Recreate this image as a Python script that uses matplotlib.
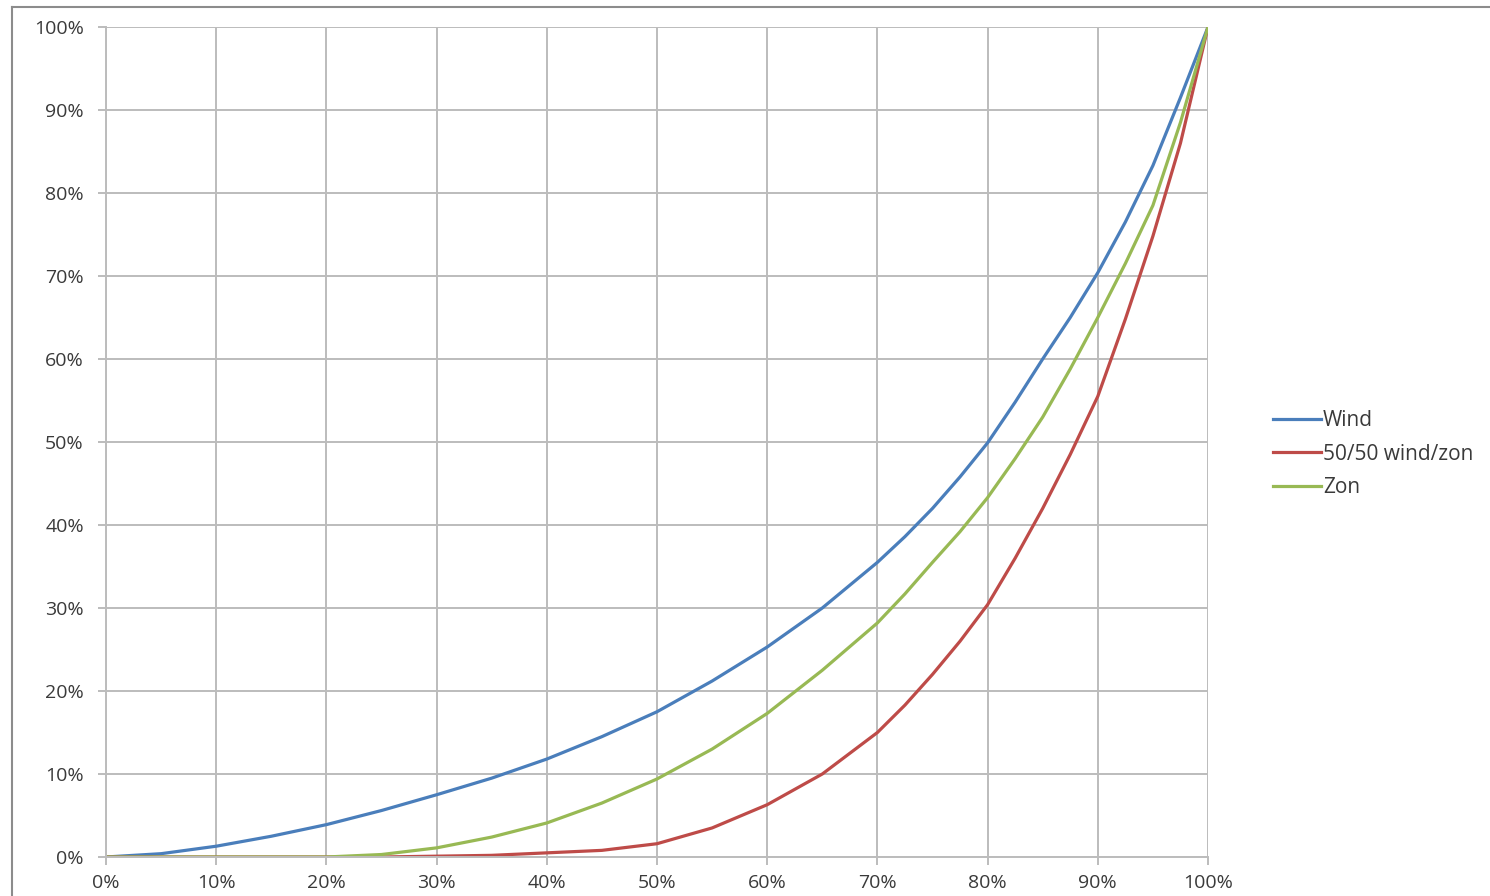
"""Cumulatieve verdeling: wind, zon en 50/50 wind/zon."""

import matplotlib.pyplot as plt
from matplotlib.lines import Line2D
from matplotlib.ticker import PercentFormatter

plt.rcParams["font.family"] = ["Open Sans", "DejaVu Sans"]

# --- Data (in %) ----------------------------------------------------------------
x = [0, 5, 10, 15, 20, 25, 30, 35, 40, 45, 50, 55, 60, 65, 70, 72.5, 75, 77.5,
     80, 82.5, 85, 87.5, 90, 92.5, 95, 97.5, 100]
wind = [0, 0.4, 1.3, 2.5, 3.9, 5.6, 7.5, 9.5, 11.8, 14.5, 17.5, 21.2, 25.3, 30.0,
        35.5, 38.6, 42.0, 45.8, 49.9, 54.8, 60.0, 65.0, 70.4, 76.5, 83.3, 91.5, 100]
wind_zon = [0, 0, 0, 0, 0, 0, 0.1, 0.2, 0.5, 0.8, 1.6, 3.5, 6.3, 10.0, 15.0, 18.3,
            22.0, 26.0, 30.4, 36.0, 42.0, 48.5, 55.5, 64.8, 74.8, 86.0, 100]
zon = [0, 0, 0, 0, 0, 0.3, 1.1, 2.4, 4.1, 6.5, 9.4, 13.0, 17.3, 22.5, 28.2, 31.7,
       35.5, 39.2, 43.3, 48.0, 53.0, 58.8, 65.0, 71.5, 78.5, 88.5, 100]

series = [("Wind", wind, "#4a7ebb"),
          ("50/50 wind/zon", wind_zon, "#be4b48"),
          ("Zon", zon, "#98b954")]

# --- Figuur ---------------------------------------------------------------------
fig = plt.figure(figsize=(14.9, 8.96), dpi=100)
ax = fig.add_axes([106 / 1490, 1 - 857 / 896, (1208 - 106) / 1490, (857 - 27) / 896])

for label, values, color in series:
    ax.plot(x, values, color=color, linewidth=2.3, label=label)

ax.set_xlim(0, 100)
ax.set_ylim(0, 100)
ax.set_xticks(range(0, 101, 10))
ax.set_yticks(range(0, 101, 10))
ax.xaxis.set_major_formatter(PercentFormatter(decimals=0))
ax.yaxis.set_major_formatter(PercentFormatter(decimals=0))
ax.grid(True, color="#bcbcbc", linewidth=1.4)
ax.set_axisbelow(True)
for side in ["top", "right"]:
    ax.spines[side].set_visible(False)
for side in ["left", "bottom"]:
    ax.spines[side].set_color("#bcbcbc")
    ax.spines[side].set_linewidth(1.4)
ax.tick_params(axis="both", colors="#bcbcbc", length=6, width=1.4,
               labelcolor="#3a3a3a", labelsize=14)
ax.tick_params(axis="y", pad=10)
ax.tick_params(axis="x", pad=6)

fig.legend(loc="center left", bbox_to_anchor=(1254 / 1490, 1 - 454 / 896),
           frameon=False, fontsize=15, handlelength=2.3, handletextpad=0.12,
           labelspacing=0.6, labelcolor="#3a3a3a")

# Kader van de grafiek (links en boven)
fig.add_artist(Line2D([12 / 1490, 12 / 1490], [0, 1 - 7 / 896],
                      transform=fig.transFigure, color="#8c8c8c", linewidth=1.5))
fig.add_artist(Line2D([12 / 1490, 1], [1 - 7 / 896, 1 - 7 / 896],
                      transform=fig.transFigure, color="#8c8c8c", linewidth=1.5))

fig.savefig("out.png", dpi=100)
